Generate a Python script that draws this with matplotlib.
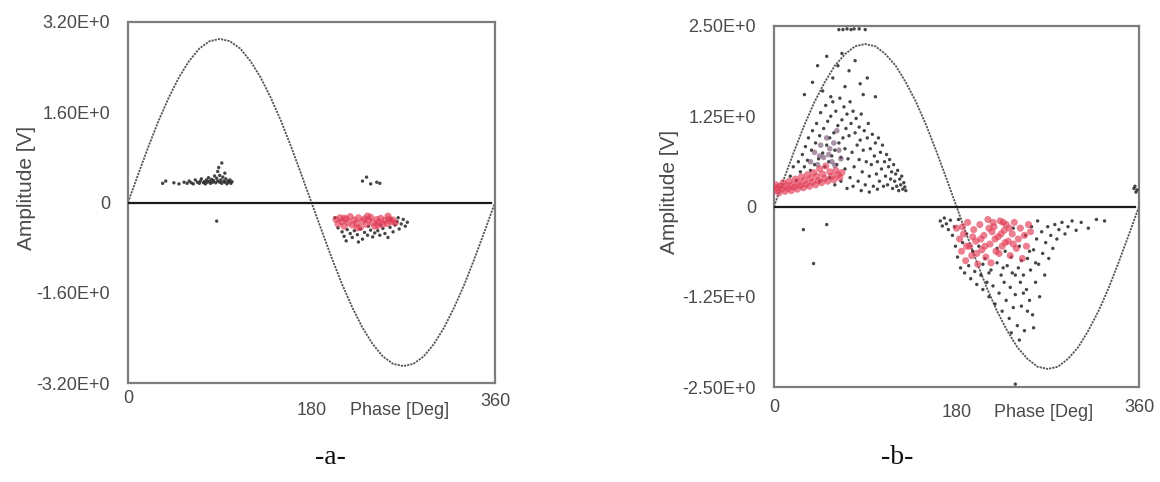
import matplotlib
matplotlib.use("Agg")
import matplotlib.pyplot as plt

# ------------------------------------------------------------
# data
# ------------------------------------------------------------
phase_grid = list(range(0, 361, 10))

# reference sine, panel a (peak ~2.9 V)
sine_a = [0, 0.50, 0.99, 1.45, 1.86, 2.22, 2.51, 2.73, 2.86, 2.90,
          2.86, 2.73, 2.51, 2.22, 1.86, 1.45, 0.99, 0.50, 0,
          -0.50, -0.99, -1.45, -1.86, -2.22, -2.51, -2.73, -2.86, -2.90,
          -2.86, -2.73, -2.51, -2.22, -1.86, -1.45, -0.99, -0.50, 0]

# reference sine, panel b (peak ~2.25 V)
sine_b = [0, 0.39, 0.77, 1.13, 1.45, 1.72, 1.95, 2.11, 2.22, 2.25,
          2.22, 2.11, 1.95, 1.72, 1.45, 1.13, 0.77, 0.39, 0,
          -0.39, -0.77, -1.13, -1.45, -1.72, -1.95, -2.11, -2.22, -2.25,
          -2.22, -2.11, -1.95, -1.72, -1.45, -1.13, -0.77, -0.39, 0]

# panel a : discharge pulses (phase deg, amplitude V)
a_black = [(34, 0.34), (37, 0.38), (45, 0.35), (50, 0.33), (55, 0.36), (58, 0.34),
           (60, 0.38), (62, 0.35), (64, 0.33), (66, 0.40), (68, 0.36), (70, 0.34),
           (71, 0.38), (72, 0.42), (74, 0.35), (75, 0.37), (76, 0.33), (77, 0.40),
           (78, 0.36), (79, 0.44), (80, 0.38), (81, 0.34), (82, 0.41), (83, 0.36),
           (84, 0.39), (85, 0.47), (86, 0.35), (87, 0.43), (88, 0.55), (88, 0.38),
           (89, 0.62), (90, 0.36), (90, 0.48), (91, 0.40), (92, 0.70), (92, 0.34),
           (93, 0.45), (94, 0.38), (95, 0.52), (95, 0.36), (96, 0.42), (97, 0.33),
           (98, 0.38), (99, 0.36), (100, 0.40), (101, 0.34), (102, 0.37), (87, -0.33),
           (230, 0.38), (234, 0.45), (238, 0.33), (244, 0.36), (247, 0.34),
           (203, -0.27), (206, -0.45), (210, -0.52), (212, -0.60), (215, -0.48),
           (218, -0.55), (220, -0.62), (222, -0.50), (225, -0.57), (228, -0.47),
           (230, -0.65), (232, -0.53), (235, -0.58), (238, -0.49), (240, -0.61),
           (242, -0.54), (245, -0.50), (247, -0.58), (250, -0.46), (252, -0.55),
           (255, -0.62), (257, -0.44), (260, -0.52), (262, -0.40), (264, -0.34),
           (266, -0.47), (268, -0.38), (270, -0.30), (272, -0.42), (274, -0.35),
           (258, -0.30), (265, -0.27), (248, -0.40), (236, -0.42), (226, -0.70),
           (214, -0.68)]

a_red = [(204, -0.30), (206, -0.38), (208, -0.27), (210, -0.34), (212, -0.42),
         (214, -0.29), (216, -0.36), (218, -0.25), (220, -0.40), (222, -0.31),
         (224, -0.37), (226, -0.27), (228, -0.44), (230, -0.33), (232, -0.29),
         (234, -0.39), (236, -0.31), (238, -0.26), (240, -0.36), (242, -0.42),
         (244, -0.30), (246, -0.35), (248, -0.28), (250, -0.39), (252, -0.32),
         (254, -0.37), (256, -0.29), (258, -0.34), (260, -0.31), (262, -0.36),
         (212, -0.28), (225, -0.45), (235, -0.24), (245, -0.41), (255, -0.24)]

# panel b
b_red = [(1, 0.22), (2, 0.30), (3, 0.26), (5, 0.19), (6, 0.28), (8, 0.24), (9, 0.33),
         (11, 0.21), (12, 0.29), (14, 0.25), (15, 0.35), (17, 0.22), (18, 0.30),
         (20, 0.27), (21, 0.38), (23, 0.24), (24, 0.33), (26, 0.29), (27, 0.41),
         (29, 0.26), (30, 0.36), (32, 0.31), (33, 0.44), (35, 0.28), (36, 0.39),
         (38, 0.34), (39, 0.47), (41, 0.30), (42, 0.42), (44, 0.36), (45, 0.52),
         (47, 0.33), (48, 0.45), (50, 0.39), (51, 0.56), (53, 0.35), (55, 0.48),
         (57, 0.42), (59, 0.37), (61, 0.50), (63, 0.44), (65, 0.40), (67, 0.47),
         (180, -0.30), (183, -0.45), (185, -0.62), (187, -0.38), (189, -0.75),
         (191, -0.22), (193, -0.55), (195, -0.68), (197, -0.32), (199, -0.48),
         (201, -0.80), (203, -0.25), (205, -0.60), (207, -0.40), (209, -0.70),
         (211, -0.18), (213, -0.52), (215, -0.35), (217, -0.28), (219, -0.62),
         (221, -0.42), (223, -0.20), (225, -0.55), (227, -0.33), (229, -0.25),
         (231, -0.48), (233, -0.68), (235, -0.38), (237, -0.22), (239, -0.58),
         (241, -0.45), (243, -0.30), (245, -0.72), (247, -0.40), (249, -0.55),
         (251, -0.25), (253, -0.35), (212, -0.30), (218, -0.45), (224, -0.38),
         (228, -0.50), (232, -0.30), (208, -0.55), (196, -0.42), (190, -0.55),
         (186, -0.28), (200, -0.65), (214, -0.78), (222, -0.65), (236, -0.52),
         (226, -0.22), (216, -0.22), (204, -0.45)]

b_purple = [(36, 0.62), (40, 0.75), (43, 0.58), (46, 0.85), (49, 0.68), (52, 0.95),
            (54, 0.72), (57, 0.62), (59, 0.88), (62, 1.05), (64, 0.78), (66, 0.66),
            (45, 0.70), (55, 0.80), (60, 0.57)]

b_black = [(16, 0.42), (19, 0.55), (22, 0.36), (24, 0.62), (26, 0.48), (28, 0.72),
           (30, 0.55), (31, 0.83), (33, 0.64), (34, 0.95), (36, 0.50), (37, 0.78),
           (38, 1.05), (40, 0.58), (41, 0.88), (42, 1.15), (44, 0.66), (45, 0.98),
           (46, 1.30), (48, 0.74), (49, 1.08), (50, 0.55), (51, 1.40), (52, 0.85),
           (53, 1.18), (54, 0.62), (55, 0.95), (56, 1.25), (57, 0.70), (58, 1.45),
           (59, 1.02), (60, 0.78), (61, 1.32), (62, 0.58), (63, 1.12), (64, 0.88),
           (65, 1.50), (66, 0.68), (67, 1.20), (68, 0.95), (69, 1.38), (70, 0.52),
           (70, 0.80), (71, 1.08), (72, 1.28), (73, 0.66), (74, 0.98), (75, 1.45),
           (75, 0.40), (76, 1.15), (77, 0.75), (78, 1.32), (79, 0.55), (80, 1.02),
           (81, 1.22), (82, 0.85), (83, 0.35), (84, 1.10), (84, 0.65), (85, 0.92),
           (86, 1.28), (87, 0.48), (88, 0.78), (89, 1.05), (90, 0.30), (91, 0.62),
           (92, 0.95), (93, 1.15), (94, 0.42), (95, 0.80), (96, 0.58), (97, 1.00),
           (98, 0.28), (99, 0.70), (100, 0.88), (101, 0.45), (102, 0.62), (103, 0.95),
           (104, 0.35), (105, 0.75), (106, 0.52), (107, 0.85), (108, 0.28), (109, 0.62),
           (110, 0.42), (111, 0.72), (112, 0.30), (113, 0.55), (114, 0.65), (115, 0.38),
           (116, 0.48), (117, 0.25), (118, 0.58), (119, 0.35), (120, 0.45), (121, 0.28),
           (122, 0.50), (123, 0.22), (124, 0.38), (125, 0.30), (126, 0.42), (127, 0.24),
           (128, 0.33), (129, 0.27), (130, 0.22), (60, 0.30), (66, 0.35), (72, 0.25),
           (78, 0.28), (86, 0.22), (94, 0.20), (102, 0.24), (45, 0.35), (55, 0.40),
           (38, 1.72), (43, 1.95), (48, 1.60), (52, 2.08), (58, 1.78), (63, 1.95),
           (67, 2.12), (70, 1.66), (74, 1.88), (80, 2.02), (85, 1.70), (92, 1.78),
           (88, 1.55), (100, 1.52), (64, 2.45), (68, 2.45), (72, 2.46), (76, 2.45),
           (79, 2.46), (84, 2.46), (90, 2.45), (30, 1.55), (56, 1.52),
           (29, -0.32), (52, -0.25), (39, -0.79),
           (355, 0.25), (357, 0.20), (356, 0.28), (358, 0.23),
           (164, -0.20), (166, -0.27), (168, -0.16), (170, -0.24), (172, -0.32),
           (174, -0.19), (176, -0.40), (178, -0.28), (179, -0.55), (181, -0.70),
           (182, -0.18), (184, -0.85), (186, -0.50), (188, -0.92), (190, -0.38),
           (192, -0.82), (194, -1.00), (196, -0.62), (198, -0.90), (200, -1.08),
           (202, -0.55), (204, -0.95), (206, -1.15), (208, -0.72), (210, -1.05),
           (212, -1.25), (214, -0.88), (216, -1.10), (218, -1.35), (220, -0.78),
           (222, -1.20), (224, -0.95), (225, -1.45), (227, -1.05), (229, -1.30),
           (230, -0.82), (232, -1.55), (233, -1.12), (235, -0.92), (236, -1.40),
           (238, -1.22), (240, -1.65), (241, -0.85), (243, -1.05), (244, -1.38),
           (246, -0.95), (247, -1.72), (249, -1.15), (250, -0.72), (252, -1.30),
           (253, -0.88), (255, -1.50), (256, -0.60), (258, -1.05), (259, -0.45),
           (261, -0.80), (262, -1.25), (264, -0.35), (265, -0.65), (267, -0.95),
           (268, -0.50), (270, -0.28), (271, -0.72), (273, -0.40), (275, -0.58),
           (277, -0.25), (279, -0.45), (281, -0.32), (284, -0.22), (287, -0.38),
           (290, -0.28), (294, -0.20), (298, -0.33), (303, -0.22), (310, -0.30),
           (318, -0.18), (326, -0.20), (236, -0.30), (242, -0.55), (248, -0.40),
           (254, -0.28), (260, -0.20), (228, -0.62), (220, -0.58), (212, -0.92),
           (206, -0.80), (244, -0.75), (234, -0.70), (252, -0.62), (258, -0.78),
           (226, -0.85), (238, -0.95), (246, -1.20), (250, -1.45), (234, -1.75),
           (242, -1.85), (256, -1.68), (238, -2.46)]

ticks_a = [3.2, 1.6, 0, -1.6, -3.2]
ticklabels_a = ["3.20E+0", "1.60E+0", "0", "-1.60E+0", "-3.20E+0"]
ticks_b = [2.5, 1.25, 0, -1.25, -2.5]
ticklabels_b = ["2.50E+0", "1.25E+0", "0", "-1.25E+0", "-2.50E+0"]

TXT = "#4a4a4a"
FONT = "Liberation Sans"

# ------------------------------------------------------------
# figure
# ------------------------------------------------------------
fig = plt.figure(figsize=(11.6, 4.82), dpi=100)
ax_a = fig.add_axes([128 / 1160, 99 / 482, 367 / 1160, 361 / 482])
ax_b = fig.add_axes([774 / 1160, 95 / 482, 365 / 1160, 361 / 482])


def draw_panel(ax, sine, lim, ticks, labels, black, red, purple, xlab_y):
    ax.plot(phase_grid, sine, color="#555555", lw=1.3,
            linestyle=(0, (1.2, 0.6)), zorder=2)
    ax.axhline(0, xmin=0, xmax=0.99, color="#1a1a1a", lw=1.6, zorder=3)

    if black:
        ax.scatter([p[0] for p in black], [p[1] for p in black], s=6,
                   c="#262626", edgecolors="none", alpha=0.85, zorder=4)
    if purple:
        ax.scatter([p[0] for p in purple], [p[1] for p in purple], s=16,
                   c="#6e4a6a", edgecolors="none", alpha=0.6, zorder=4)
    if red:
        ax.scatter([p[0] for p in red], [p[1] for p in red], s=26,
                   c="#e23b55", edgecolors="none", alpha=0.65, zorder=5)

    ax.set_xlim(0, 360)
    ax.set_ylim(-lim, lim)
    ax.set_xticks([])
    ax.set_yticks(ticks)
    ax.set_yticklabels(labels, fontsize=13, color=TXT, family=FONT)
    ax.tick_params(axis="y", length=0, pad=13)
    for sp in ax.spines.values():
        sp.set_color("#7d7d7d")
        sp.set_linewidth(1.6)

    # x labels are staggered as in the original software export
    tr = ax.get_xaxis_transform()
    ax.text(0, xlab_y[0], "0", transform=tr, ha="center", va="center",
            fontsize=13, color=TXT, family=FONT)
    ax.text(180, xlab_y[1], "180", transform=tr, ha="center", va="center",
            fontsize=13, color=TXT, family=FONT)
    ax.text(266, xlab_y[1], "Phase [Deg]", transform=tr, ha="center", va="center",
            fontsize=13, color=TXT, family=FONT)
    ax.text(360, xlab_y[2], "360", transform=tr, ha="center", va="center",
            fontsize=13, color=TXT, family=FONT)

    ax.set_ylabel("Amplitude [V]", fontsize=15, color=TXT, family=FONT)


draw_panel(ax_a, sine_a, 3.2, ticks_a, ticklabels_a, a_black, a_red, None,
           (-0.042, -0.075, -0.05))
ax_a.yaxis.set_label_coords(-0.25, 0.54)

draw_panel(ax_b, sine_b, 2.5, ticks_b, ticklabels_b, b_black, b_red, b_purple,
           (-0.058, -0.072, -0.058))
ax_b.yaxis.set_label_coords(-0.26, 0.54)

fig.text(330 / 1160, 1 - 458 / 482, "-a-", ha="center", va="center",
         fontsize=20, family="Liberation Serif", color="#111111")
fig.text(897 / 1160, 1 - 458 / 482, "-b-", ha="center", va="center",
         fontsize=20, family="Liberation Serif", color="#111111")

fig.savefig("out.png", dpi=100, facecolor="white")
